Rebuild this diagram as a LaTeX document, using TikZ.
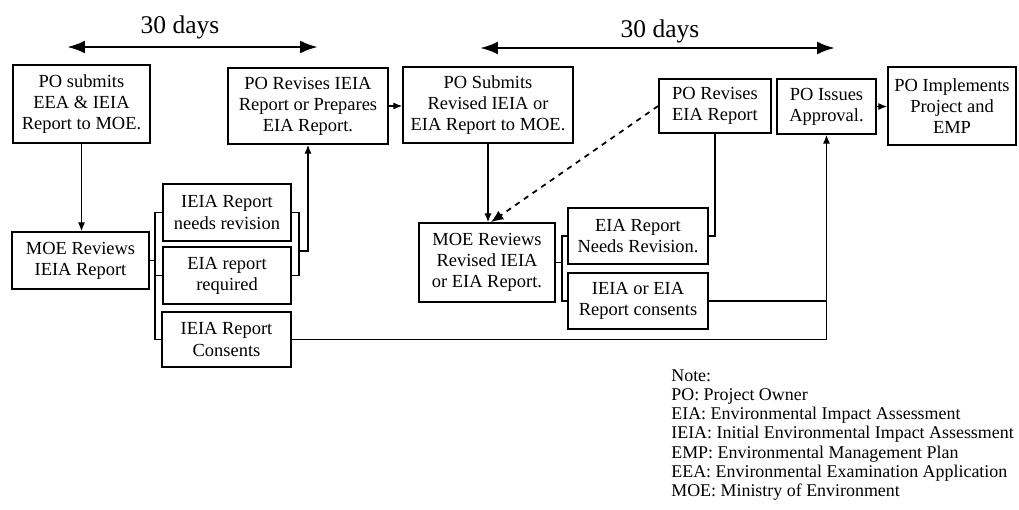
\documentclass[tikz,border=0pt]{standalone}
\usepackage{fontspec}
\setmainfont{Liberation Serif}
\usetikzlibrary{arrows.meta}
\tikzstyle{stepBox}=[shape = rectangle, draw, line width = 1pt, align = center, inner sep = 1pt, font = \fontsize{10.5}{12}\selectfont]
\tikzstyle{linkStyle}=[line width = 0.6pt]

\begin{document}
\begin{tikzpicture}[x = 0.02cm, y = -0.02cm]
\tikzstyle{tipStyle}=[linkStyle, -{Latex[length = 5pt, width = 4pt]}]
\tikzstyle{dashStyle}=[line width = 1pt, dashed, -{Latex[length = 7pt, width = 6pt]}]
\tikzstyle{daysArrow}=[{Latex[length = 0.36cm, width = 0.26cm]}-{Latex[length = 0.36cm, width = 0.26cm]}, line width = 1.6pt]
\tikzstyle{daysLabel}=[font = \fontsize{14.5}{17}\selectfont]
\useasboundingbox (0,0) rectangle (1019,510);
\node[stepBox, minimum width = 2.74cm, minimum height = 1.56cm] (v0) at (81.5,104) {PO submits\\EEA \& IEIA\\Report to MOE.};
\node[stepBox, minimum width = 3.2cm, minimum height = 1.52cm] (v1) at (308,106) {PO Revises IEIA\\Report or Prepares\\EIA Report.};
\node[stepBox, minimum width = 3.4cm, minimum height = 1.52cm] (v2) at (488,105) {PO Submits\\Revised IEIA or\\EIA Report to MOE.};
\node[stepBox, minimum width = 2.24cm, minimum height = 1.08cm] (v3) at (715,106) {PO Revises\\EIA Report};
\node[stepBox, minimum width = 1.98cm, minimum height = 1.1cm] (v4) at (826.5,106.5) {PO Issues\\Approval.};
\node[stepBox, minimum width = 2.56cm, minimum height = 1.56cm] (v5) at (952,106) {PO Implements\\Project and\\EMP};
\node[stepBox, minimum width = 2.74cm, minimum height = 1.14cm] (v6) at (80.5,260.5) {MOE Reviews\\IEIA Report};
\node[stepBox, minimum width = 2.56cm, minimum height = 1.14cm] (v7) at (227,212.5) {IEIA Report\\needs revision};
\node[stepBox, minimum width = 2.56cm, minimum height = 1.14cm] (v8) at (227,275.5) {EIA report\\required};
\node[stepBox, minimum width = 2.58cm, minimum height = 1.1cm] (v9) at (226.5,339.5) {IEIA Report\\Consents};
\node[stepBox, minimum width = 2.72cm, minimum height = 1.58cm] (v10) at (487,262.5) {MOE Reviews\\Revised IEIA\\or EIA Report.};
\node[stepBox, minimum width = 2.8cm, minimum height = 1.12cm] (v11) at (638,236) {EIA Report\\Needs Revision.};
\node[stepBox, minimum width = 2.8cm, minimum height = 1.12cm] (v12) at (638,301) {IEIA or EIA\\Report consents};
\node[daysLabel] (t0) at (180,27) {30 days};
\node[daysLabel] (t1) at (660,31) {30 days};
\coordinate (d0) at (67,47);
\coordinate (d1) at (318,47);
\coordinate (d2) at (480,48);
\coordinate (d3) at (835,48);
\coordinate (g0) at (155,260.5);
\coordinate (h0) at (299,251);
\coordinate (i0) at (562,262.5);
\draw[daysArrow] (d0) -- (d1);
\draw[daysArrow] (d2) -- (d3);
\draw[tipStyle] (v0.south) -- (v0.south |- v6.north);
\draw[tipStyle] (v1.east) -- (v1.east -| v2.west);
\draw[tipStyle] (v4.east) -- (v4.east -| v5.west);
\draw[tipStyle] (v2.south) -- (v2.south |- v10.north);
\draw[dashStyle] (v3.west) -- ([xshift = 0.08cm]v10.north);
\draw[linkStyle] (v6.east) -- (g0);
\draw[linkStyle] (v7.west) -| (g0) |- (v9.west);
\draw[linkStyle] (g0 |- v8.west) -- (v8.west);
\draw[linkStyle] (v7.east) -| (h0);
\draw[linkStyle] (v8.east) -| (h0);
\draw[tipStyle] (h0) -| (v1.south);
\draw[tipStyle] (v9.east) -| (v4.south);
\draw[linkStyle] (v10.east) -- (i0);
\draw[linkStyle] (v11.west) -| (i0) |- (v12.west);
\draw[linkStyle] (v11.east) -| (v3.south);
\draw[linkStyle] (v12.east) -- (v12.east -| v4.south);
\node[anchor = north west, align = left, inner sep = 0pt, font = \fontsize{10.2}{10.95}\selectfont] (n0) at (671,369) {Note:\\PO: Project Owner\\EIA: Environmental Impact Assessment\\IEIA: Initial Environmental Impact Assessment\\EMP: Environmental Management Plan\\EEA: Environmental Examination Application\\MOE: Ministry of Environment};
\end{tikzpicture}
\end{document}
